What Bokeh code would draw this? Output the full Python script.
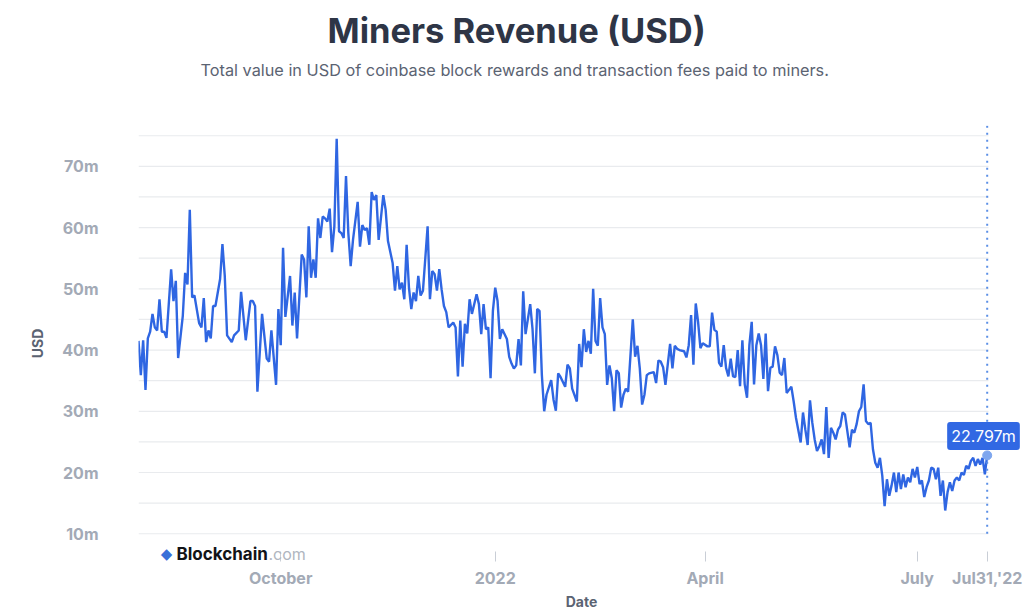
import pandas as pd
from bokeh.plotting import figure
from bokeh.models import Range1d, Label, FixedTicker, ColumnDataSource, Title
from bokeh.embed import file_html
from bokeh.resources import INLINE

# ---------------- data ----------------
start_date = "2021-08-01"
day_offset = [
    0, 1, 2, 3, 4, 5, 6, 7, 8, 9, 10, 11, 12, 14, 15, 16, 17, 19, 20, 21,
    22, 23, 24, 26, 27, 28, 29, 30, 31, 32, 33, 35, 36, 37, 38, 40, 41, 43, 44, 46,
    48, 49, 50, 51, 53, 55, 56, 57, 59, 60, 61, 62, 63, 65, 66, 67, 68, 70, 71, 72,
    73, 74, 75, 76, 77, 78, 79, 80, 81, 82, 83, 84, 85, 86, 87, 88, 89, 90, 91, 92,
    94, 95, 96, 97, 98, 99, 100, 101, 102, 103, 105, 106, 107, 109, 110, 111, 112, 113, 114, 115,
    116, 117, 118, 119, 120, 121, 122, 124, 125, 126, 127, 128, 129, 130, 131, 132, 133, 135, 136, 137,
    138, 139, 140, 141, 142, 143, 145, 146, 147, 148, 149, 150, 151, 152, 153, 154, 155, 156, 158, 159,
    160, 161, 162, 163, 164, 165, 166, 168, 169, 170, 171, 172, 173, 174, 175, 177, 178, 179, 180, 181,
    183, 184, 185, 186, 188, 189, 190, 191, 192, 193, 194, 195, 196, 197, 198, 199, 200, 201, 202, 203,
    204, 205, 206, 207, 208, 209, 210, 212, 213, 214, 215, 216, 217, 218, 219, 221, 222, 223, 224, 225,
    226, 228, 229, 230, 231, 232, 234, 235, 236, 237, 238, 239, 240, 241, 242, 244, 245, 246, 247, 248,
    249, 250, 251, 252, 253, 254, 255, 256, 257, 258, 259, 260, 261, 262, 263, 264, 265, 266, 267, 268,
    269, 270, 271, 272, 273, 274, 275, 276, 277, 278, 279, 280, 281, 282, 284, 285, 286, 287, 288, 289,
    290, 291, 292, 293, 294, 295, 296, 297, 298, 299, 300, 301, 302, 303, 304, 305, 306, 307, 308, 309,
    310, 311, 312, 313, 314, 315, 316, 317, 318, 319, 320, 321, 322, 323, 324, 325, 326, 327, 328, 329,
    330, 331, 332, 333, 334, 335, 336, 337, 338, 339, 340, 341, 342, 343, 344, 345, 346, 347, 348, 349,
    350, 351, 352, 353, 354, 355, 356, 357, 358, 359, 360, 361, 362, 363, 364,
]
revenue_musd = [
    41.5, 35.9, 41.6, 33.5, 41.9, 43.0, 45.9, 43.7, 43.2, 48.3, 43.0, 43.0, 42.0, 53.2, 48.0, 51.3, 38.7, 45.6, 52.6, 50.7,
    62.9, 48.6, 48.9, 44.4, 43.7, 48.5, 41.3, 43.2, 41.9, 47.2, 47.2, 51.6, 57.3, 52.1, 42.4, 41.3, 42.4, 43.2, 49.5, 41.6,
    48.0, 48.0, 47.2, 33.2, 45.9, 38.6, 38.1, 43.2, 34.3, 46.7, 40.8, 56.7, 45.4, 52.1, 44.0, 49.4, 41.9, 55.6, 54.8, 48.6,
    60.2, 51.8, 54.8, 51.8, 61.5, 58.3, 61.8, 61.5, 61.0, 63.1, 56.0, 60.2, 74.5, 59.4, 59.1, 58.3, 68.4, 59.1, 53.7, 58.0,
    64.2, 56.9, 60.4, 59.6, 59.9, 57.2, 65.8, 64.5, 65.3, 58.0, 65.3, 62.9, 57.8, 54.2, 49.7, 53.7, 49.9, 51.0, 48.3, 57.2,
    50.2, 46.7, 49.4, 48.0, 52.1, 48.9, 49.7, 60.2, 48.3, 52.9, 52.4, 49.7, 53.2, 49.9, 47.2, 46.2, 43.7, 44.5, 43.7, 35.7,
    44.8, 37.3, 44.3, 42.7, 48.3, 45.9, 49.1, 47.5, 42.6, 47.5, 43.4, 43.7, 35.4, 46.4, 50.2, 48.0, 41.8, 43.4, 41.8, 38.9,
    37.8, 37.0, 37.5, 41.8, 37.5, 49.6, 42.6, 47.5, 43.4, 36.2, 46.7, 46.4, 35.9, 30.0, 32.7, 35.1, 31.9, 30.1, 36.2, 35.6,
    34.0, 37.6, 37.0, 33.7, 31.6, 41.0, 37.2, 43.4, 39.7, 41.5, 39.4, 50.0, 41.5, 40.7, 48.5, 43.7, 42.6, 34.3, 37.5, 35.4,
    30.0, 36.7, 36.2, 30.6, 32.7, 33.7, 33.2, 45.0, 38.9, 40.7, 37.0, 31.1, 32.7, 35.9, 36.2, 36.4, 34.6, 38.3, 38.1, 37.2,
    34.3, 41.0, 37.0, 40.7, 40.2, 40.0, 39.8, 38.8, 40.8, 45.7, 37.6, 47.6, 44.6, 40.3, 41.1, 40.6, 40.6, 46.1, 43.3, 43.0,
    37.9, 37.3, 40.8, 37.1, 35.7, 38.6, 35.7, 35.6, 40.0, 34.1, 41.6, 34.4, 32.2, 40.8, 44.6, 34.4, 40.8, 42.7, 40.8, 35.3,
    42.7, 33.3, 37.1, 37.3, 40.6, 39.2, 36.3, 35.9, 38.7, 33.0, 33.5, 34.0, 31.6, 28.9, 24.9, 29.8, 27.0, 24.5, 31.8, 28.1,
    25.4, 23.5, 24.3, 25.4, 23.0, 30.7, 22.4, 27.3, 26.5, 25.4, 27.0, 27.6, 29.8, 29.5, 26.8, 24.1, 27.0, 26.5, 27.9, 30.0,
    30.7, 34.4, 28.4, 27.9, 28.1, 23.8, 21.6, 20.8, 22.4, 19.5, 14.5, 18.9, 16.2, 17.9, 20.0, 16.8, 20.0, 17.3, 19.7, 17.6,
    19.2, 18.4, 20.6, 19.2, 20.9, 18.1, 18.7, 16.0, 17.6, 18.7, 20.8, 20.6, 18.9, 20.8, 16.2, 18.7, 13.8, 16.8, 18.4, 17.0,
    18.7, 19.2, 18.7, 20.0, 19.6, 21.1, 20.6, 21.9, 22.4, 21.1, 22.2, 21.3, 22.4, 19.7, 22.797,
]
y_ticks = [10, 15, 20, 25, 30, 35, 40, 45, 50, 55, 60, 65, 70, 75]
y_labelled = [10, 20, 30, 40, 50, 60, 70]
x_tick_dates = ["2021-10-01", "2022-01-01", "2022-04-01", "2022-07-01"]
x_tick_labels = ["October", "2022", "April", "July"]

title_text = "Miners Revenue (USD)"
subtitle_text = "Total value in USD of coinbase block rewards and transaction fees paid to miners."

# ---------------- build ----------------
FONT = "Inter"
LINE_BLUE = "#2f66e2"
TICK_GRAY = "#a3aab6"
LABEL_GRAY = "#5b6372"

t0 = pd.Timestamp(start_date)
dates = t0 + pd.to_timedelta(day_offset, unit="D")
src = ColumnDataSource(dict(date=dates, value=revenue_musd))

DAYS_IN_PLOT = 364.56          # visible chart area (gridlines end here)
DAYS_IN_FRAME = 380.0          # frame extends to the page edge for the value bubble
x_start = t0
x_grid_end = t0 + pd.Timedelta(days=DAYS_IN_PLOT)
x_end = t0 + pd.Timedelta(days=DAYS_IN_FRAME)

p = figure(width=1024, height=612, x_axis_type="datetime",
           x_range=Range1d(x_start, x_end), y_range=Range1d(5.47, 76.67),
           output_backend="svg", toolbar_location=None,
           min_border_left=138, min_border_right=0,
           min_border_top=125, min_border_bottom=47)
p.title.visible = False
p.outline_line_color = None
p.background_fill_color = "white"
p.border_fill_color = "white"

# titles (stacked from the frame upwards: spacer, subtitle, title)
p.add_layout(Title(text=" ", text_font_size="1px", standoff=40), "above")
p.add_layout(Title(text=subtitle_text, align="left", offset=62, standoff=6,
                   text_font=FONT, text_font_size="16.3px", text_font_style="normal",
                   text_color="#5b6372"), "above")
p.add_layout(Title(text=title_text, align="left", offset=189, standoff=8,
                   text_font=FONT, text_font_size="34.5px", text_font_style="bold",
                   text_color="#2e3546"), "above")

# y axis
p.yaxis.ticker = FixedTicker(ticks=y_ticks)
p.yaxis.major_label_overrides = {t: (f"{t}m" if t in y_labelled else "") for t in y_ticks}
p.yaxis.axis_line_color = None
p.yaxis.major_tick_line_color = None
p.yaxis.minor_tick_line_color = None
p.yaxis.major_tick_out = 0
p.yaxis.major_tick_in = 0
p.yaxis.major_label_standoff = 40
p.yaxis.major_label_text_font = FONT
p.yaxis.major_label_text_font_size = "16px"
p.yaxis.major_label_text_font_style = "bold"
p.yaxis.major_label_text_color = TICK_GRAY
p.yaxis.axis_label = "USD"
p.yaxis.axis_label_text_font = FONT
p.yaxis.axis_label_text_font_size = "14px"
p.yaxis.axis_label_text_font_style = "bold"
p.yaxis.axis_label_text_color = LABEL_GRAY
p.yaxis.axis_label_standoff = 13

# x axis (the last tick carries the hovered date)
last_date = dates[-1]
last_val = revenue_musd[-1]
x_ticks_ms = [pd.Timestamp(d).value / 1e6 for d in x_tick_dates]
last_ms = last_date.value / 1e6
p.xaxis.ticker = FixedTicker(ticks=x_ticks_ms + [last_ms])
overrides = {t: lab for t, lab in zip(x_ticks_ms, x_tick_labels)}
overrides[last_ms] = last_date.strftime("%b%d,'%y")
p.xaxis.major_label_overrides = overrides
p.xaxis.axis_line_color = None
p.xaxis.minor_tick_line_color = None
p.xaxis.major_tick_in = 10
p.xaxis.major_tick_out = 0
p.xaxis.major_tick_line_color = "#c9ced6"
p.xaxis.major_label_standoff = 6
p.xaxis.major_label_text_font = FONT
p.xaxis.major_label_text_font_size = "16px"
p.xaxis.major_label_text_font_style = "bold"
p.xaxis.major_label_text_color = TICK_GRAY
p.xaxis.axis_label = "Date"
p.xaxis.axis_label_text_font = FONT
p.xaxis.axis_label_text_font_size = "14px"
p.xaxis.axis_label_text_font_style = "bold"
p.xaxis.axis_label_text_color = LABEL_GRAY
p.xaxis.axis_label_standoff = 2

# grid lines only across the chart area
p.xgrid.grid_line_color = None
p.ygrid.grid_line_color = None
p.segment(x0=[x_start] * len(y_ticks), y0=y_ticks,
          x1=[x_grid_end] * len(y_ticks), y1=y_ticks,
          line_color="#e9ebee", line_width=1.2)

# data line
p.line("date", "value", source=src, line_color=LINE_BLUE, line_width=2.4)

# hover-style crosshair and marker on the last point
p.segment(x0=[last_date], y0=[y_ticks[0]], x1=[last_date], y1=[p.y_range.end],
          line_color="#5b8fe6", line_width=2, line_dash="2 5")
p.scatter([last_date], [last_val], size=9, fill_color="#7ea6ee", line_color="#7ea6ee")

# value bubble (inside the frame)
p.add_layout(Label(x=845, y=125.5, x_units="screen", y_units="screen",
                   text=f"{last_val:.3f}m",
                   text_font=FONT, text_font_size="16px", text_color="white",
                   text_align="center", text_baseline="middle",
                   background_fill_color="#3168e3", padding=4, border_radius=3))

# watermark
p.add_layout(Label(x=28, y=8, x_units="screen", y_units="screen", text="\u25c6",
                   text_font="DejaVu Sans", text_font_size="15px",
                   text_color="#3a6fd8", text_align="center", text_baseline="middle"))
p.add_layout(Label(x=38, y=8, x_units="screen", y_units="screen", text="Blockchain",
                   text_font=FONT, text_font_size="17px", text_font_style="bold",
                   text_color="#121417", text_align="left", text_baseline="middle"))
p.add_layout(Label(x=130, y=8, x_units="screen", y_units="screen", text=".com",
                   text_font=FONT, text_font_size="16px",
                   text_color="#b0b6c0", text_align="left", text_baseline="middle"))

open("out.html", "w").write(file_html(p, INLINE))
